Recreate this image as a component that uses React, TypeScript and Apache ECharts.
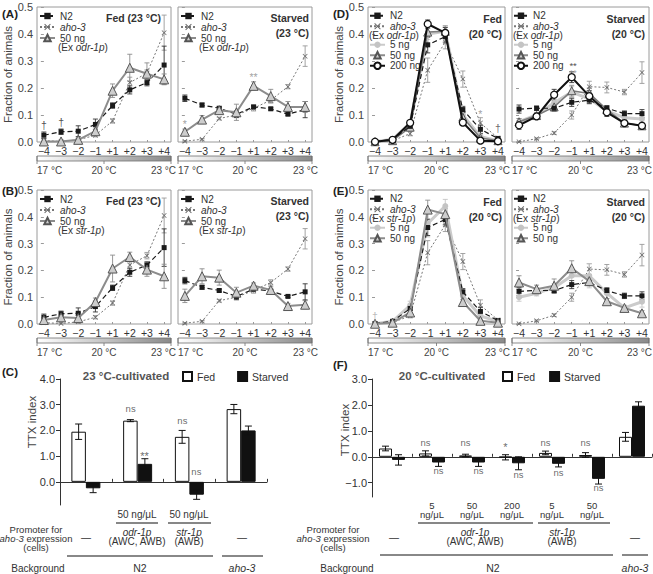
import React, { useEffect, useRef } from "react";
import * as echarts from "echarts";

const FONT = "'Liberation Sans', Arial, Helvetica, sans-serif";

// ---------- tick labels ----------
const positions = ["−4", "−3", "−2", "−1", "+1", "+2", "+3", "+4"];
const xIdx = [0, 1, 2, 3, 4, 5, 6, 7];

// ---------- Panel A (23 °C, odr-1p) ----------
const aFedN2 = [0.025, 0.038, 0.04, 0.065, 0.135, 0.193, 0.22, 0.285];
const aFedN2Err = [0.012, 0.01, 0.02, 0.02, 0.01, 0.015, 0.012, 0.07];
const aFedAho = [0.005, 0.002, 0.008, 0.025, 0.078, 0.22, 0.255, 0.405];
const aFedAhoErr = [0.003, 0.002, 0.005, 0.006, 0.008, 0.02, 0.012, 0.065];
const aFed50 = [0.002, 0.002, 0.008, 0.04, 0.19, 0.275, 0.253, 0.232];
const aFed50Err = [0.002, 0.002, 0.005, 0.012, 0.025, 0.05, 0.04, 0.02];
const aStvN2 = [0.162, 0.137, 0.125, 0.103, 0.13, 0.123, 0.103, 0.12];
const aStvN2Err = [0.012, 0.007, 0.005, 0.012, 0.006, 0.005, 0.004, 0.03];
const aStvAho = [0.003, 0.01, 0.087, 0.1, 0.125, 0.155, 0.205, 0.318];
const aStvAhoErr = [0.002, 0.003, 0.005, 0.01, 0.01, 0.01, 0.008, 0.038];
const aStv50 = [0.038, 0.083, 0.118, 0.11, 0.208, 0.17, 0.13, 0.13];
const aStv50Err = [0.01, 0.015, 0.01, 0.03, 0.015, 0.025, 0.02, 0.02];

// ---------- Panel B (23 °C, str-1p) ----------
const bFed50 = [0.015, 0.025, 0.022, 0.082, 0.207, 0.25, 0.203, 0.178];
const bFed50Err = [0.008, 0.008, 0.01, 0.015, 0.05, 0.018, 0.025, 0.045];
const bStv50 = [0.105, 0.178, 0.173, 0.117, 0.143, 0.127, 0.067, 0.072];
const bStv50Err = [0.025, 0.028, 0.028, 0.02, 0.01, 0.012, 0.01, 0.015];

// ---------- Panel D (20 °C, odr-1p) ----------
const dFedN2 = [0.002, 0.01, 0.058, 0.36, 0.39, 0.12, 0.047, 0.013];
const dFedN2Err = [0.002, 0.004, 0.008, 0.03, 0.02, 0.012, 0.015, 0.005];
const dFedAho = [0.001, 0.005, 0.031, 0.266, 0.37, 0.233, 0.07, 0.015];
const dFedAhoErr = [0.001, 0.003, 0.008, 0.045, 0.025, 0.03, 0.02, 0.006];
const dFed5 = [0.001, 0.01, 0.07, 0.4, 0.41, 0.1, 0.02, 0.005];
const dFed5Err = [0.001, 0.004, 0.01, 0.02, 0.02, 0.015, 0.008, 0.003];
const dFed50 = [0.001, 0.005, 0.055, 0.407, 0.41, 0.092, 0.015, 0.005];
const dFed50Err = [0.001, 0.003, 0.01, 0.02, 0.02, 0.01, 0.006, 0.003];
const dFed200 = [0.001, 0.008, 0.071, 0.437, 0.404, 0.072, 0.005, 0.003];
const dFed200Err = [0.001, 0.004, 0.008, 0.015, 0.02, 0.01, 0.004, 0.002];
const dStvN2 = [0.122, 0.125, 0.125, 0.147, 0.155, 0.125, 0.105, 0.105];
const dStvN2Err = [0.015, 0.008, 0.01, 0.015, 0.012, 0.01, 0.01, 0.015];
const dStvAho = [0.001, 0.012, 0.033, 0.1, 0.205, 0.202, 0.185, 0.257];
const dStvAhoErr = [0.001, 0.003, 0.005, 0.015, 0.02, 0.02, 0.01, 0.04];
const dStv5 = [0.075, 0.1, 0.145, 0.185, 0.16, 0.115, 0.09, 0.085];
const dStv5Err = [0.012, 0.01, 0.015, 0.02, 0.02, 0.012, 0.01, 0.012];
const dStv50 = [0.075, 0.098, 0.13, 0.19, 0.18, 0.12, 0.07, 0.06];
const dStv50Err = [0.012, 0.01, 0.015, 0.02, 0.02, 0.012, 0.01, 0.01];
const dStv200 = [0.062, 0.095, 0.175, 0.24, 0.17, 0.11, 0.07, 0.06];
const dStv200Err = [0.015, 0.01, 0.02, 0.02, 0.02, 0.015, 0.012, 0.01];

// ---------- Panel E (20 °C, str-1p) ----------
const eFed5 = [0.001, 0.01, 0.07, 0.375, 0.44, 0.105, 0.03, 0.01];
const eFed5Err = [0.001, 0.005, 0.015, 0.05, 0.025, 0.02, 0.01, 0.005];
const eFed50 = [0.001, 0.005, 0.043, 0.427, 0.41, 0.082, 0.012, 0.005];
const eFed50Err = [0.001, 0.003, 0.01, 0.035, 0.02, 0.01, 0.005, 0.003];
const eStv5 = [0.1, 0.115, 0.135, 0.18, 0.18, 0.115, 0.06, 0.083];
const eStv5Err = [0.015, 0.01, 0.015, 0.03, 0.045, 0.02, 0.01, 0.02];
const eStv50 = [0.155, 0.13, 0.143, 0.208, 0.16, 0.085, 0.06, 0.04];
const eStv50Err = [0.025, 0.015, 0.025, 0.028, 0.015, 0.01, 0.008, 0.01];

// ---------- Panel C (23 °C-cultivated TTX index) ----------
const cCats = ["N2", "odr-1p 50", "str-1p 50", "aho-3"];
const cFed = [1.95, 2.38, 1.75, 2.83];
const cFedErr = [0.3, 0.04, 0.25, 0.18];
const cStv = [-0.25, 0.7, -0.5, 2.0];
const cStvErr = [0.17, 0.2, 0.18, 0.17];
const cTicks = [0, 1, 2, 3, 4];

// ---------- Panel F (20 °C-cultivated TTX index) ----------
const fCats = ["N2", "odr-1p 5", "odr-1p 50", "odr-1p 200", "str-1p 5", "str-1p 50", "aho-3"];
const fFed = [0.32, 0.13, 0.05, -0.02, 0.15, 0.07, 0.77];
const fFedErr = [0.09, 0.1, 0.05, 0.1, 0.07, 0.09, 0.17];
const fStv = [-0.12, -0.22, -0.22, -0.25, -0.27, -0.85, 1.97];
const fStvErr = [0.2, 0.15, 0.15, 0.25, 0.12, 0.2, 0.15];
const fTicks = [-1, 0, 1, 2, 3];
const fDoses = ["5", "50", "200", "5", "50"];

const X_SYMBOL = "path://M1,0L5,4L9,0L10,1L6,5L10,9L9,10L5,6L1,10L0,9L4,5L0,1Z";

const STYLES: any = {
  n2: { symbol: "rect", symbolSize: 5, lineStyle: { color: "#1a1a1a", width: 1.2, type: [5, 3] }, itemStyle: { color: "#1a1a1a" }, err: "#333" },
  aho: { symbol: X_SYMBOL, symbolSize: 5, lineStyle: { color: "#777", width: 1, type: [2, 2] }, itemStyle: { color: "#666" }, err: "#9a9a9a" },
  tri: { symbol: "triangle", symbolSize: 9, lineStyle: { color: "#8c8c8c", width: 2, type: "solid" }, itemStyle: { color: "#cdcdcd", borderColor: "#555", borderWidth: 1 }, err: "#8c8c8c" },
  tri2: { symbol: "triangle", symbolSize: 8, lineStyle: { color: "#7a7a7a", width: 1.5, type: "solid" }, itemStyle: { color: "#cdcdcd", borderColor: "#555", borderWidth: 1 }, err: "#8c8c8c" },
  light: { symbol: "circle", symbolSize: 6, lineStyle: { color: "#cbcbcb", width: 3, type: "solid" }, itemStyle: { color: "#c4c4c4" }, err: "#c4c4c4" },
  circ: { symbol: "circle", symbolSize: 7, lineStyle: { color: "#111", width: 2, type: "solid" }, itemStyle: { color: "#fff", borderColor: "#111", borderWidth: 1.3 }, err: "#333" },
};

const G: any = {
  aL: { l: 37, t: 7, w: 134, h: 135 },
  aR: { l: 178, t: 7, w: 134, h: 135 },
  bL: { l: 37, t: 190, w: 134, h: 134 },
  bR: { l: 178, t: 190, w: 134, h: 134 },
  dL: { l: 368, t: 7, w: 137, h: 135 },
  dR: { l: 512, t: 7, w: 137, h: 135 },
  eL: { l: 368, t: 190, w: 137, h: 134 },
  eR: { l: 512, t: 190, w: 137, h: 134 },
};

const GRAY_MARK = "#8a8a8a";

const PANELS: any[] = [
  { g: G.aL, showY: true, series: [["aho-3", aFedAho, aFedAhoErr, "aho"], ["N2", aFedN2, aFedN2Err, "n2"], ["50 ng", aFed50, aFed50Err, "tri"]],
    marks: [{ x: 0, y: 0.062, t: "†", c: "#222" }, { x: 1, y: 0.074, t: "†", c: "#222" }] },
  { g: G.aR, showY: false, series: [["aho-3", aStvAho, aStvAhoErr, "aho"], ["N2", aStvN2, aStvN2Err, "n2"], ["50 ng", aStv50, aStv50Err, "tri"]],
    marks: [{ x: 0, y: 0.066, t: "*", c: GRAY_MARK }, { x: 4, y: 0.24, t: "**", c: GRAY_MARK }] },
  { g: G.bL, showY: true, series: [["aho-3", aFedAho, aFedAhoErr, "aho"], ["N2", aFedN2, aFedN2Err, "n2"], ["50 ng", bFed50, bFed50Err, "tri"]], marks: [] },
  { g: G.bR, showY: false, series: [["aho-3", aStvAho, aStvAhoErr, "aho"], ["N2", aStvN2, aStvN2Err, "n2"], ["50 ng", bStv50, bStv50Err, "tri"]], marks: [] },
  { g: G.dL, showY: true, series: [["aho-3", dFedAho, dFedAhoErr, "aho"], ["5 ng", dFed5, dFed5Err, "light"], ["50 ng", dFed50, dFed50Err, "tri2"], ["N2", dFedN2, dFedN2Err, "n2"], ["200 ng", dFed200, dFed200Err, "circ"]],
    marks: [{ x: 6, y: 0.103, t: "*", c: GRAY_MARK }, { x: 7, y: 0.052, t: "†", c: "#444" }] },
  { g: G.dR, showY: false, series: [["aho-3", dStvAho, dStvAhoErr, "aho"], ["5 ng", dStv5, dStv5Err, "light"], ["50 ng", dStv50, dStv50Err, "tri2"], ["N2", dStvN2, dStvN2Err, "n2"], ["200 ng", dStv200, dStv200Err, "circ"]],
    marks: [{ x: 3.08, y: 0.272, t: "{a|**}\n{b|**}", c: "#222" }] },
  { g: G.eL, showY: true, series: [["aho-3", dFedAho, dFedAhoErr, "aho"], ["5 ng", eFed5, eFed5Err, "light"], ["N2", dFedN2, dFedN2Err, "n2"], ["50 ng", eFed50, eFed50Err, "tri"]],
    marks: [{ x: 0, y: 0.03, t: "†", c: "#aaa" }] },
  { g: G.eR, showY: false, series: [["aho-3", dStvAho, dStvAhoErr, "aho"], ["5 ng", eStv5, eStv5Err, "light"], ["N2", dStvN2, dStvN2Err, "n2"], ["50 ng", eStv50, eStv50Err, "tri"]], marks: [] },
];

const errRender = (color: string, cap: number, offset: number, lw = 0.9) => (params: any, api: any) => {
  const x = api.value(0);
  const lo = api.value(1);
  const hi = api.value(2);
  const a = api.coord([x, hi]);
  const b = api.coord([x, lo]);
  const cx = a[0] + offset;
  const st = { stroke: color, lineWidth: lw };
  return {
    type: "group",
    children: [
      { type: "line", shape: { x1: cx, y1: a[1], x2: cx, y2: b[1] }, style: st },
      { type: "line", shape: { x1: cx - cap, y1: a[1], x2: cx + cap, y2: a[1] }, style: st },
      { type: "line", shape: { x1: cx - cap, y1: b[1], x2: cx + cap, y2: b[1] }, style: st },
    ],
  };
};

const txt = (text: string, x: number, y: number, o: any = {}) => {
  const size = o.size || 10;
  const color = o.color || "#333";
  const lh = o.lh || Math.round(size * 1.2);
  return {
    type: "text",
    x,
    y,
    rotation: o.rot || 0,
    silent: true,
    z: 50,
    style: {
      text,
      align: o.align || "center",
      verticalAlign: "middle",
      fontSize: size,
      lineHeight: lh,
      fontWeight: o.bold ? "bold" : "normal",
      fill: color,
      fontFamily: FONT,
      rich: { i: { fontStyle: "italic", fontSize: size, lineHeight: lh, fill: color, fontFamily: FONT } },
    },
  };
};

const ln = (x1: number, y1: number, x2: number, y2: number, stroke: string, w: number) => ({
  type: "line",
  silent: true,
  z: 50,
  shape: { x1, y1, x2, y2 },
  style: { stroke, lineWidth: w },
});

function tempBar(g: any, rightLimit: number) {
  const x = g.l;
  const w = g.w;
  const y = g.t + g.h + 14;
  const out: any[] = [
    {
      type: "rect",
      silent: true,
      z: 50,
      shape: { x, y, width: w, height: 5 },
      style: {
        fill: { type: "linear", x: 0, y: 0, x2: 1, y2: 0, colorStops: [{ offset: 0, color: "#ffffff" }, { offset: 1, color: "#8a8a8a" }] },
        stroke: "#6f6f6f",
        lineWidth: 0.8,
      },
    },
    ln(x, y, x, y + 8, "#6f6f6f", 0.8),
    ln(x + w / 2, y + 5, x + w / 2, y + 8, "#6f6f6f", 0.8),
    ln(x + w, y, x + w, y + 8, "#6f6f6f", 0.8),
    txt("17 °C", x, y + 14, { align: "left", size: 10, color: "#444" }),
    txt("20 °C", x + w / 2, y + 14, { size: 10, color: "#444" }),
    txt("23 °C", Math.min(x + w + 6, rightLimit), y + 14, { align: "right", size: 10, color: "#444" }),
  ];
  return out;
}

function buildOption() {
  const grid: any[] = [];
  const xAxis: any[] = [];
  const yAxis: any[] = [];
  const series: any[] = [];

  PANELS.forEach((p, gi) => {
    const g = p.g;
    grid.push({ left: g.l, top: g.t, width: g.w, height: g.h, show: true, borderColor: "#9a9a9a", borderWidth: 1, backgroundColor: "transparent" });
    xAxis.push({
      gridIndex: gi,
      type: "value",
      min: -0.4,
      max: 7.4,
      axisLine: { show: false },
      splitLine: { show: false },
      axisTick: { show: true, inside: true, length: 2, customValues: xIdx, lineStyle: { color: "#9a9a9a" } },
      axisLabel: { customValues: xIdx, formatter: (v: number) => positions[Math.round(v)], fontSize: 10.5, color: "#333", margin: 3, fontFamily: FONT },
    });
    yAxis.push({
      gridIndex: gi,
      type: "value",
      min: 0,
      max: 0.5,
      interval: 0.1,
      axisLine: { show: false },
      splitLine: { show: false },
      axisTick: { show: true, length: 3, lineStyle: { color: "#9a9a9a" } },
      axisLabel: { show: p.showY, formatter: (v: number) => v.toFixed(1), fontSize: 11, color: "#444", margin: 4, fontFamily: FONT },
      name: p.showY ? "Fraction of animals" : "",
      nameLocation: "middle",
      nameGap: 21,
      nameTextStyle: { fontSize: 11.5, color: "#444", fontFamily: FONT },
    });
    p.series.forEach((s: any, k: number) => {
      const [name, vals, errs, kind] = s;
      const st = STYLES[kind];
      series.push({
        type: "custom",
        xAxisIndex: gi,
        yAxisIndex: gi,
        silent: true,
        z: 1,
        encode: { x: 0, y: [1, 2] },
        data: vals.map((v: number, i: number) => [i, v - errs[i], v + errs[i]]),
        renderItem: errRender(st.err, 2.5, 0),
      });
      series.push({
        type: "line",
        name,
        xAxisIndex: gi,
        yAxisIndex: gi,
        data: vals.map((v: number, i: number) => [i, v]),
        symbol: st.symbol,
        symbolSize: st.symbolSize,
        showSymbol: true,
        lineStyle: st.lineStyle,
        itemStyle: st.itemStyle,
        z: 2 + k,
        silent: true,
      });
    });
    if (p.marks.length) {
      series.push({
        type: "scatter",
        xAxisIndex: gi,
        yAxisIndex: gi,
        symbol: "circle",
        symbolSize: 0.1,
        itemStyle: { color: "transparent" },
        silent: true,
        z: 20,
        data: p.marks.map((m: any) => ({
          value: [m.x, m.y],
          label: {
            show: true,
            position: "inside",
            formatter: m.t,
            color: m.c,
            fontSize: 10.5,
            fontFamily: FONT,
            rich: {
              a: { color: "#222", fontSize: 9.5, lineHeight: 7, fontFamily: FONT },
              b: { color: GRAY_MARK, fontSize: 9.5, lineHeight: 7, fontFamily: FONT },
            },
          },
        })),
      });
    }
  });

  // ----- bar panels -----
  const barPanel = (gi: number, g: any, cats: string[], fed: number[], fedErr: number[], stv: number[], stvErr: number[], min: number, max: number, ticks: number[], bw: number, marks: any[]) => {
    grid.push({ left: g.l, top: g.t, width: g.w, height: g.h, show: false });
    xAxis.push({
      gridIndex: gi,
      type: "category",
      data: cats,
      axisLine: { show: true, onZero: true, lineStyle: { color: "#333", width: 1 } },
      axisTick: { show: true, inside: true, length: 3, interval: 0, alignWithLabel: false, lineStyle: { color: "#333" } },
      axisLabel: { show: false },
      splitLine: { show: false },
    });
    yAxis.push({
      gridIndex: gi,
      type: "value",
      min,
      max,
      axisLine: { show: true, lineStyle: { color: "#333", width: 1 } },
      axisTick: { show: true, length: 4, customValues: ticks, lineStyle: { color: "#333" } },
      axisLabel: { customValues: ticks, formatter: (v: number) => (Math.abs(v) < 1e-9 ? "0.0" : v < 0 ? "−" + Math.abs(v).toFixed(1) : v.toFixed(1)), fontSize: 11, color: "#333", margin: 5, fontFamily: FONT },
      splitLine: { show: false },
    });
    series.push({
      type: "bar",
      name: "Fed",
      xAxisIndex: gi,
      yAxisIndex: gi,
      data: fed,
      barWidth: bw,
      barGap: "0%",
      itemStyle: { color: "#ffffff", borderColor: "#111", borderWidth: 1 },
      z: 2,
      silent: true,
    });
    series.push({
      type: "bar",
      name: "Starved",
      xAxisIndex: gi,
      yAxisIndex: gi,
      data: stv,
      barWidth: bw,
      barGap: "0%",
      itemStyle: { color: "#111111", borderColor: "#111", borderWidth: 1 },
      z: 2,
      silent: true,
    });
    series.push({
      type: "custom",
      xAxisIndex: gi,
      yAxisIndex: gi,
      silent: true,
      z: 3,
      encode: { x: 0, y: [1, 2] },
      data: fed.map((v, i) => [i, v - fedErr[i], v + fedErr[i]]),
      renderItem: errRender("#111", 3.5, -bw / 2, 1),
    });
    series.push({
      type: "custom",
      xAxisIndex: gi,
      yAxisIndex: gi,
      silent: true,
      z: 3,
      encode: { x: 0, y: [1, 2] },
      data: stv.map((v, i) => [i, v - stvErr[i], v + stvErr[i]]),
      renderItem: errRender("#111", 3.5, bw / 2, 1),
    });
    series.push({
      type: "scatter",
      xAxisIndex: gi,
      yAxisIndex: gi,
      symbol: "circle",
      symbolSize: 0.1,
      itemStyle: { color: "transparent" },
      silent: true,
      z: 20,
      data: marks.map((m: any) => ({
        value: [m.x, m.y],
        label: { show: true, position: "inside", formatter: m.t, color: "#444", fontSize: m.t === "ns" ? 9.5 : 11, offset: [m.dx, 0], fontFamily: FONT },
      })),
    });
  };

  const cMarks = [
    { x: 1, y: 2.85, t: "ns", dx: -7 },
    { x: 1, y: 1.0, t: "**", dx: 7 },
    { x: 2, y: 2.37, t: "ns", dx: -7 },
    { x: 2, y: 0.42, t: "ns", dx: 7 },
  ];
  const fMarks = [
    { x: 1, y: 0.54, t: "ns", dx: -6.5 },
    { x: 2, y: 0.54, t: "ns", dx: -6.5 },
    { x: 3, y: 0.36, t: "*", dx: -6.5 },
    { x: 4, y: 0.54, t: "ns", dx: -6.5 },
    { x: 5, y: 0.54, t: "ns", dx: -6.5 },
    { x: 1, y: -0.54, t: "ns", dx: 6.5 },
    { x: 2, y: -0.54, t: "ns", dx: 6.5 },
    { x: 3, y: -0.69, t: "ns", dx: 6.5 },
    { x: 4, y: -0.6, t: "ns", dx: 6.5 },
    { x: 5, y: -1.2, t: "ns", dx: 6.5 },
  ];
  barPanel(8, { l: 60, t: 379, w: 207, h: 126 }, cCats, cFed, cFedErr, cStv, cStvErr, -0.9, 4, cTicks, 14.5, cMarks);
  barPanel(9, { l: 372, t: 379, w: 280, h: 118 }, fCats, fFed, fFedErr, fStv, fStvErr, -1.55, 3, fTicks, 13, fMarks);

  // ----- legends -----
  const legFmt = (n: string) => (n === "aho-3" ? "{i|aho-3}" : n);
  const mkLeg = (left: number, top: number, data: string[], lh: number, iw = 15) => ({
    left,
    top,
    orient: "vertical",
    padding: 0,
    itemGap: 0,
    itemWidth: iw,
    itemHeight: 8,
    data,
    formatter: legFmt,
    selectedMode: false,
    textStyle: { fontSize: 10, lineHeight: lh, color: "#333", fontFamily: FONT, rich: { i: { fontStyle: "italic", fontSize: 10, lineHeight: lh, color: "#333", fontFamily: FONT } } },
  });
  const legend: any[] = [
    mkLeg(39, 10.5, ["N2", "aho-3", "50 ng"], 11),
    mkLeg(180, 10.5, ["N2", "aho-3", "50 ng"], 11),
    mkLeg(39, 193.5, ["N2", "aho-3", "50 ng"], 11),
    mkLeg(180, 193.5, ["N2", "aho-3", "50 ng"], 11),
    mkLeg(369, 10.5, ["N2", "aho-3"], 10.5),
    mkLeg(369, 39.5, ["5 ng", "50 ng", "200 ng"], 10.5),
    mkLeg(513, 10.5, ["N2", "aho-3"], 10.5, 14),
    mkLeg(513, 39.5, ["5 ng", "50 ng", "200 ng"], 10.5, 14),
    mkLeg(369, 193.5, ["N2", "aho-3"], 10.5),
    mkLeg(369, 222.5, ["5 ng", "50 ng"], 10.5),
    mkLeg(513, 193.5, ["N2", "aho-3"], 10.5, 14),
    mkLeg(513, 222.5, ["5 ng", "50 ng"], 10.5, 14),
    { left: 182, top: 371, padding: 0, itemGap: 22, itemWidth: 9, itemHeight: 9, icon: "rect", selectedMode: false, data: ["Fed", "Starved"], textStyle: { fontSize: 10.5, color: "#333", fontFamily: FONT } },
    { left: 502, top: 371, padding: 0, itemGap: 14, itemWidth: 9, itemHeight: 9, icon: "rect", selectedMode: false, data: ["Fed", "Starved"], textStyle: { fontSize: 10.5, color: "#333", fontFamily: FONT } },
  ];

  // ----- graphic annotations -----
  const gfx: any[] = [];
  gfx.push(txt("(A)", 2, 14, { align: "left", bold: true, size: 11.5, color: "#222" }));
  gfx.push(txt("(B)", 2, 191, { align: "left", bold: true, size: 11.5, color: "#222" }));
  gfx.push(txt("(C)", 2, 372, { align: "left", bold: true, size: 11.5, color: "#222" }));
  gfx.push(txt("(D)", 333, 14, { align: "left", bold: true, size: 11.5, color: "#222" }));
  gfx.push(txt("(E)", 333, 191, { align: "left", bold: true, size: 11.5, color: "#222" }));
  gfx.push(txt("(F)", 333, 365, { align: "left", bold: true, size: 11.5, color: "#222" }));

  const bold = { bold: true, size: 10.5, color: "#333", align: "right", lh: 15 };
  [0, 183].forEach((dy, k) => {
    gfx.push(txt("Fed (23 °C)", 161, 18 + dy, bold));
    gfx.push(txt("Starved\n(23 °C)", 309, 25.5 + dy, bold));
    gfx.push(txt("Fed\n(20 °C)", 502, 26 + dy, bold));
    gfx.push(txt("Starved\n(20 °C)", 645, 26 + dy, bold));
    const ex = k === 0 ? "odr-1p" : "str-1p";
    gfx.push(txt("(Ex {i|" + ex + "})", 58, 47.5 + dy, { align: "left", size: 10 }));
    gfx.push(txt("(Ex {i|" + ex + "})", 199, 47.5 + dy, { align: "left", size: 10 }));
    gfx.push(txt("(Ex {i|" + ex + "})", 369, 35 + dy, { align: "left", size: 10 }));
    gfx.push(txt("(Ex {i|" + ex + "})", 513, 35 + dy, { align: "left", size: 10 }));
  });

  gfx.push(...tempBar(G.aL, G.aR.l - 2));
  gfx.push(...tempBar(G.aR, 330));
  gfx.push(...tempBar(G.bL, G.bR.l - 2));
  gfx.push(...tempBar(G.bR, 330));
  gfx.push(...tempBar(G.dL, G.dR.l - 2));
  gfx.push(...tempBar(G.dR, 652));
  gfx.push(...tempBar(G.eL, G.eR.l - 2));
  gfx.push(...tempBar(G.eR, 652));

  gfx.push(txt("23 °C-cultivated", 126, 376, { bold: true, size: 11.5, color: "#555" }));
  gfx.push(txt("20 °C-cultivated", 442, 376, { bold: true, size: 11.5, color: "#555" }));
  gfx.push(txt("TTX index", 32, 422, { rot: Math.PI / 2, size: 11.5, color: "#444" }));
  gfx.push(txt("TTX index", 345, 430, { rot: Math.PI / 2, size: 11.5, color: "#444" }));

  // C annotations
  gfx.push(txt("50 ng/μL", 137, 514));
  gfx.push(txt("50 ng/μL", 189, 514));
  gfx.push(ln(116, 523, 158, 523, "#111", 1.2));
  gfx.push(ln(168, 523, 211, 523, "#111", 1.2));
  gfx.push(txt("—", 86, 537));
  gfx.push(txt("—", 242, 537));
  gfx.push(txt("{i|odr-1p}\n(AWC, AWB)", 137, 536.5, { lh: 9 }));
  gfx.push(txt("{i|str-1p}\n(AWB)", 189, 536.5, { lh: 9 }));
  gfx.push(txt("Promoter for\n{i|aho-3} expression\n(cells)", 36, 538, { size: 9.5, lh: 9 }));
  gfx.push(ln(67, 556, 213, 556, "#888", 2));
  gfx.push(ln(222, 556, 263, 556, "#888", 2));
  gfx.push(txt("Background", 38, 568));
  gfx.push(txt("N2", 140, 568, { size: 10.5 }));
  gfx.push(txt("{i|aho-3}", 242, 568, { size: 10.5 }));

  // F annotations
  fDoses.forEach((t, k) => {
    gfx.push(txt(t + "\nng/μL", 432 + 40 * k, 510, { size: 9.5, lh: 8.5 }));
  });
  gfx.push(ln(418, 523, 533, 523, "#111", 1.2));
  gfx.push(ln(538, 523, 610, 523, "#111", 1.2));
  gfx.push(txt("—", 394, 537));
  gfx.push(txt("—", 635, 537));
  gfx.push(txt("{i|odr-1p}\n(AWC, AWB)", 475, 536.5, { lh: 9 }));
  gfx.push(txt("{i|str-1p}\n(AWB)", 562, 536.5, { lh: 9 }));
  gfx.push(txt("Promoter for\n{i|aho-3} expression\n(cells)", 333, 538, { size: 9.5, lh: 9 }));
  gfx.push(ln(380, 555, 613, 555, "#888", 2));
  gfx.push(ln(622, 555, 648, 555, "#888", 2));
  gfx.push(txt("Background", 347, 568));
  gfx.push(txt("N2", 493, 568, { size: 10.5 }));
  gfx.push(txt("{i|aho-3}", 635, 568, { size: 10.5 }));

  return {
    animation: false,
    backgroundColor: "#ffffff",
    textStyle: { fontFamily: FONT },
    grid,
    xAxis,
    yAxis,
    legend,
    series,
    graphic: { elements: gfx },
  };
}

export default function App() {
  const ref = useRef<HTMLDivElement>(null);
  useEffect(() => {
    if (!ref.current) return;
    const chart = echarts.init(ref.current, undefined, { renderer: "svg" });
    chart.setOption(buildOption() as any);
    return () => chart.dispose();
  }, []);
  return <div ref={ref} style={{ position: "fixed", left: 0, top: 0, width: 653, height: 574, background: "#fff" }} />;
}
